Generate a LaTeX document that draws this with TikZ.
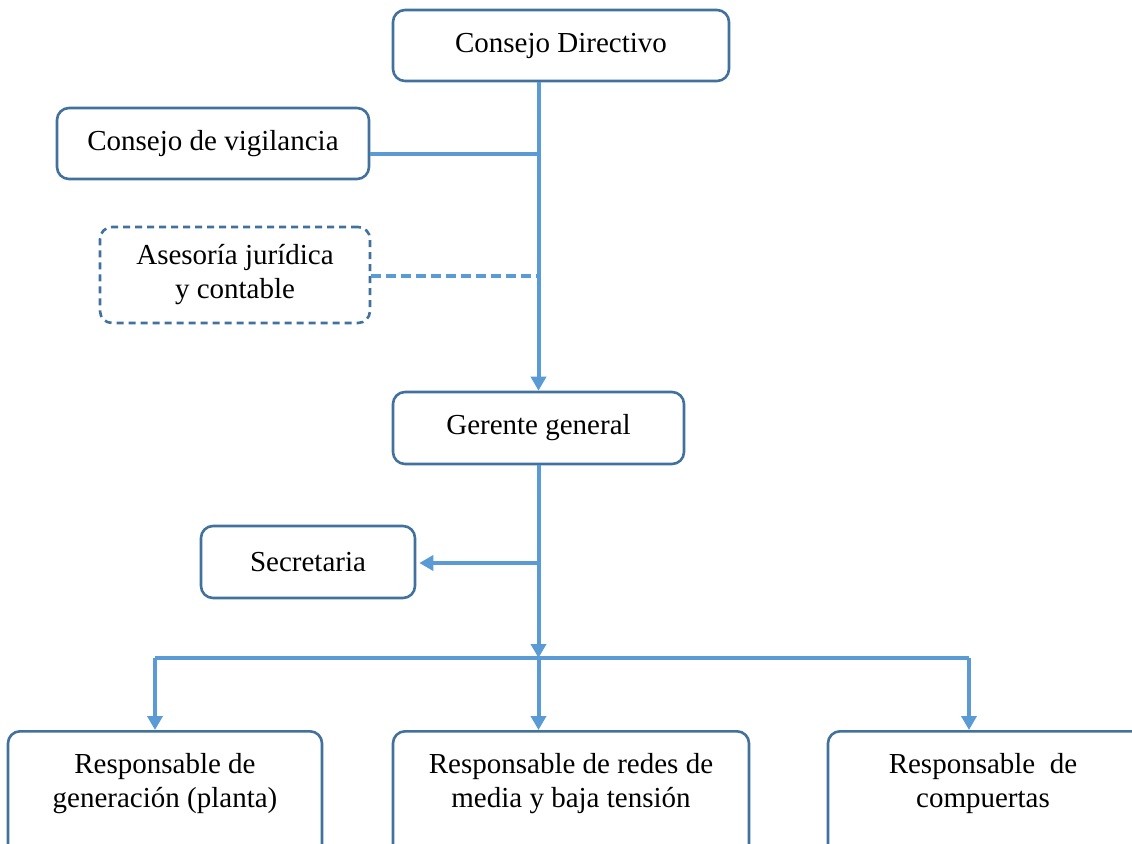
\documentclass[tikz,border=0pt]{standalone}
\usepackage{fontspec}
\setmainfont{Liberation Serif}
\usetikzlibrary{arrows.meta}
\definecolor{azul}{RGB}{91,155,213}
\definecolor{azulosc}{RGB}{65,113,156}
\tikzset{
  caja/.style={draw=azulosc, line width=1.3pt, rounded corners=6pt, fill=white,
    align=center, inner sep=0pt, font=\fontsize{14.5pt}{17pt}\selectfont},
  cajabaja/.style={caja, anchor=north, minimum height=80pt},
  etiqueta/.style={anchor=north, align=center, inner sep=0pt, yshift=-11.5pt,
    font=\fontsize{14.5pt}{17pt}\selectfont},
  linea/.style={draw=azul, line width=2pt},
  flecha/.style={linea, -{Triangle[width=7.5pt,length=7pt]}}
}
\begin{document}
\begin{tikzpicture}[x=0.5pt,y=-0.5pt]
\useasboundingbox (0,0) rectangle (1132,843);
\clip (0,0) rectangle (1132,843);
\node[caja, minimum width=168pt, minimum height=35.5pt] (dir) at (561,45.5) {Consejo Directivo};
\node[caja, minimum width=156pt, minimum height=35.5pt] (vig) at (213,143.5) {Consejo de vigilancia};
\node[caja, dash pattern=on 3.5pt off 2.5pt, minimum width=135pt, minimum height=48pt] (ase) at (235,275) {Asesoría jurídica\\y contable};
\node[caja, minimum width=145.5pt, minimum height=36pt] (ger) at (538.5,428) {Gerente general};
\node[caja, minimum width=107pt, minimum height=36pt] (sec) at (308,562) {Secretaria};
\node[cajabaja, minimum width=157pt, label={[etiqueta]north:Responsable de\\generación (planta)}] (gen) at (165,730) {};
\node[cajabaja, minimum width=178pt, label={[etiqueta]north:Responsable de redes de\\media y baja tensión}] (red) at (571,730) {};
\node[cajabaja, minimum width=160pt, label={[etiqueta, xshift=-2.5pt]north:Responsable\ \ de\\compuertas}] (com) at (988,730) {};
\coordinate (t1) at (539,154);
\coordinate (t2) at (539,276);
\coordinate (t3) at (538.5,563);
\coordinate (bus) at (538.5,658);
\coordinate (b1) at (155,658);
\coordinate (b3) at (969,658);
\draw[flecha] (dir.south -| ger.north) -- (ger.north);
\draw[linea] (vig.east |- t1) -- (t1);
\draw[linea, dash pattern=on 5pt off 2.5pt] (ase.east |- t2) -- (t2);
\draw[flecha] (ger.south) -- (bus);
\draw[flecha] (t3) -- ([xshift=1.5pt]sec.east |- t3);
\draw[linea] (b1) -- (b3);
\foreach \b/\n in {b1/gen,bus/red,b3/com} \draw[flecha] (\b) -- (\b |- \n.north);
\end{tikzpicture}
\end{document}
